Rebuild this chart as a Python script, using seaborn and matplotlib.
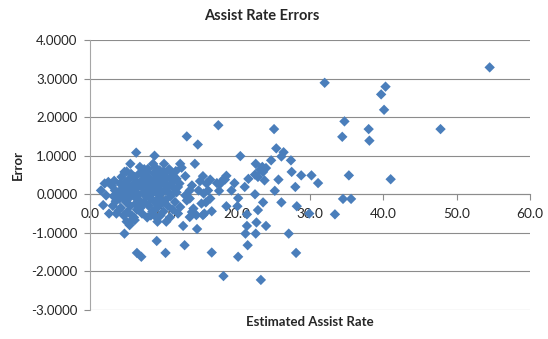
import matplotlib
matplotlib.use("Agg")
import matplotlib.pyplot as plt
import seaborn as sns
import pandas as pd

title = "Assist Rate Errors"
x_label = "Estimated Assist Rate"
y_label = "Error"
x_ticks = [0, 10, 20, 30, 40, 50, 60]
y_ticks = [-3, -2, -1, 0, 1, 2, 3, 4]

# estimated assist rate values
est_rate = [
    54.5, 32.0, 40.3, 39.7, 40.1, 34.7, 38.0, 47.8, 34.4, 38.1, 28.8, 30.2, 35.3, 41.0, 31.1,
    34.5, 35.6, 29.9, 33.4, 28.0, 28.2, 28.1, 27.1,
    17.5, 25.1, 25.4, 26.4, 26.1, 24.7, 27.4, 27.5, 22.6, 23.5, 24.0, 23.2, 23.6, 22.5, 22.9,
    21.6, 23.8, 25.7, 20.5, 19.7, 21.1, 19.3, 22.5, 25.2, 20.2, 23.6, 26.1, 22.9, 21.4, 21.4,
    22.7, 24.0, 21.2, 22.6, 21.5, 16.6, 20.2, 18.2, 23.3, 16.6, 18.6, 18.2, 17.3, 17.6, 18.6,
    20.1, 18.4, 17.7, 15.4, 15.6, 15.8, 16.1, 15.9, 16.4, 15.4, 15.0, 15.5, 16.4, 15.2,
    13.2, 14.7, 12.3, 12.5, 14.3, 10.1, 11.1, 13.0, 11.8, 11.4, 13.9, 14.8, 13.6, 12.0, 13.0,
    13.2, 13.6, 14.1, 12.3, 13.9, 14.5, 13.6, 12.7, 14.6, 12.9, 10.4, 10.3, 9.1, 9.0, 10.0,
    6.3, 8.8, 5.5, 6.8, 7.9, 8.6, 4.7, 5.6, 7.7, 5.0, 2.5, 2.0, 1.5, 2.2, 1.8, 2.6, 4.7, 5.4,
    6.1, 5.0, 6.4, 7.0, 9.2,
    3.0, 3.2, 3.1, 3.4, 3.5, 3.3,
    3.8, 4.0, 4.1, 4.2, 3.9, 4.4, 4.5, 4.3,
    4.8, 4.9, 5.0, 5.1, 5.2, 5.3, 5.4, 5.5, 5.6, 5.7,
    5.9, 6.0, 6.1, 6.2, 6.3, 6.4, 6.5, 6.6, 6.7, 6.8,
    6.9, 7.0, 7.1, 7.2, 7.3, 7.4, 7.5, 7.6, 7.7, 7.8,
    7.9, 8.0, 8.1, 8.2, 8.3, 8.4, 8.5, 8.6, 8.7, 8.8,
    8.9, 9.0, 9.1, 9.2, 9.3, 9.4, 9.5, 9.6, 9.7, 9.8,
    9.9, 10.0, 10.1, 10.2, 10.3, 10.4, 10.5, 10.6, 10.7, 10.8,
    10.9, 11.0, 11.2, 11.3, 11.5, 11.6, 11.8, 12.0, 12.2, 11.7,
    6.0, 5.8, 8.3, 9.6, 4.6, 3.6, 10.9, 7.4, 8.9,
]

# error values
error = [
    3.29, 2.89, 2.79, 2.59, 2.19, 1.89, 1.69, 1.69, 1.49, 1.39, 0.49, 0.49, 0.49, 0.39, 0.29,
    -0.12, -0.12, -0.50, -0.52, 0.19, -0.31, -1.52, -1.02,
    1.79, 1.69, 1.19, 1.09, 0.98, 0.88, 0.88, 0.58, 0.79, 0.71, 0.68, 0.64, 0.58, 0.51, 0.45,
    0.40, 0.36, 0.38, 0.99, 0.29, 0.19, 0.10, 0.00, 0.09, -0.10, -0.21, -0.21, -0.41, -0.52, -0.82,
    -0.73, -0.82, -1.02, -1.02, -1.32, -1.51, -1.62, -2.12, -2.22, -0.44, 0.48, 0.39, 0.29, 0.09, -0.31,
    -0.31, 0.38, 0.26, -0.54, -0.50, -0.21, 0.10, 0.28, 0.38, 0.47, 0.34, 0.02, -0.11, -0.24,
    1.50, 1.29, 0.79, 0.69, 0.79, 0.79, 0.58, 0.47, 0.40, 0.36, 0.23, 0.10, 0.10, 0.19, -0.03,
    -0.16, -0.11, -0.37, -0.33, -0.46, -0.54, -0.59, -0.82, -0.90, -1.32, -0.71, -1.52, -1.21, -0.59, 0.59,
    1.08, 1.00, 0.79, 0.71, 0.66, 0.79, 0.58, 0.53, 0.59, 0.59, 0.32, 0.28, 0.10, -0.03, -0.28, -0.50, -1.02, -0.80,
    -0.67, -0.71, -1.52, -1.62, -0.71,
    0.22, -0.05, -0.30, 0.10, -0.18, 0.35,
    0.05, -0.12, 0.28, -0.35, -0.42, 0.15, -0.05, 0.45,
    0.30, -0.20, 0.05, -0.45, 0.20, -0.10, 0.40, -0.30, 0.10, -0.55,
    0.25, -0.05, 0.45, -0.25, 0.15, -0.40, 0.30, 0.00, -0.15, 0.55,
    -0.35, 0.20, -0.50, 0.38, 0.05, -0.20, 0.50, -0.05, 0.25, -0.60,
    0.12, -0.30, 0.42, -0.10, 0.30, 0.00, -0.45, 0.20, 0.55, -0.20,
    0.35, 0.05, -0.35, 0.48, 0.15, -0.10, 0.62, 0.25, -0.25, 0.40,
    0.05, -0.45, 0.30, 0.55, -0.15, 0.15, 0.42, -0.30, 0.05, 0.65,
    0.25, -0.05, 0.48, -0.40, 0.15, -0.20, 0.05, -0.50, 0.28, 0.60,
    -0.60, -0.65, -0.55, -0.55, -0.55, -0.50, -0.60, 0.65, 0.70,
]

df = pd.DataFrame({"rate": est_rate, "err": error})

sns.set_style("white")
plt.rcParams["font.family"] = ["Lato", "DejaVu Sans"]

fig = plt.figure(figsize=(5.48, 3.39), dpi=100)
ax = fig.add_axes([90 / 548, 29 / 339, 440 / 548, 270 / 339])

for y in y_ticks:
    ax.axhline(y, color="#8c8c8c", lw=0.8, zorder=0)

sns.scatterplot(data=df, x="rate", y="err", marker="D", s=28, color="#4A7EBB",
                edgecolor="none", linewidth=0, ax=ax, zorder=3)

ax.set_xlim(0, 60)
ax.set_ylim(-3, 4)
ax.set_xticks(x_ticks)
ax.set_xticklabels([f"{v:.1f}" for v in x_ticks])
ax.set_yticks(y_ticks)
ax.set_yticklabels([f"{v:.4f}" for v in y_ticks])
ax.set_xlabel("")
ax.set_ylabel("")

ax.spines["bottom"].set_position(("data", 0))
for s in ["top", "right"]:
    ax.spines[s].set_visible(False)
ax.spines["bottom"].set_color("#8c8c8c")
ax.spines["left"].set_color("#a6a6a6")
ax.spines["bottom"].set_linewidth(0.8)
ax.spines["left"].set_linewidth(0.8)
ax.spines["bottom"].set_zorder(1)

ax.tick_params(axis="x", direction="out", length=4, width=0.8, color="#8c8c8c",
               labelsize=9.8, pad=6, bottom=True)
ax.tick_params(axis="y", direction="out", length=4, width=0.8, color="#8c8c8c",
               labelsize=9.5, pad=5, left=True)

fig.text(262 / 548, 1 - 16 / 339, title, ha="center", va="center",
         fontsize=10.5, fontweight="bold")
fig.text(310 / 548, 1 - 322 / 339, x_label, ha="center", va="center",
         fontsize=9.5, fontweight="bold")
fig.text(18 / 548, 1 - 165 / 339, y_label, ha="center", va="center",
         fontsize=9.5, fontweight="bold", rotation=90)

fig.savefig("out.png", dpi=100)
